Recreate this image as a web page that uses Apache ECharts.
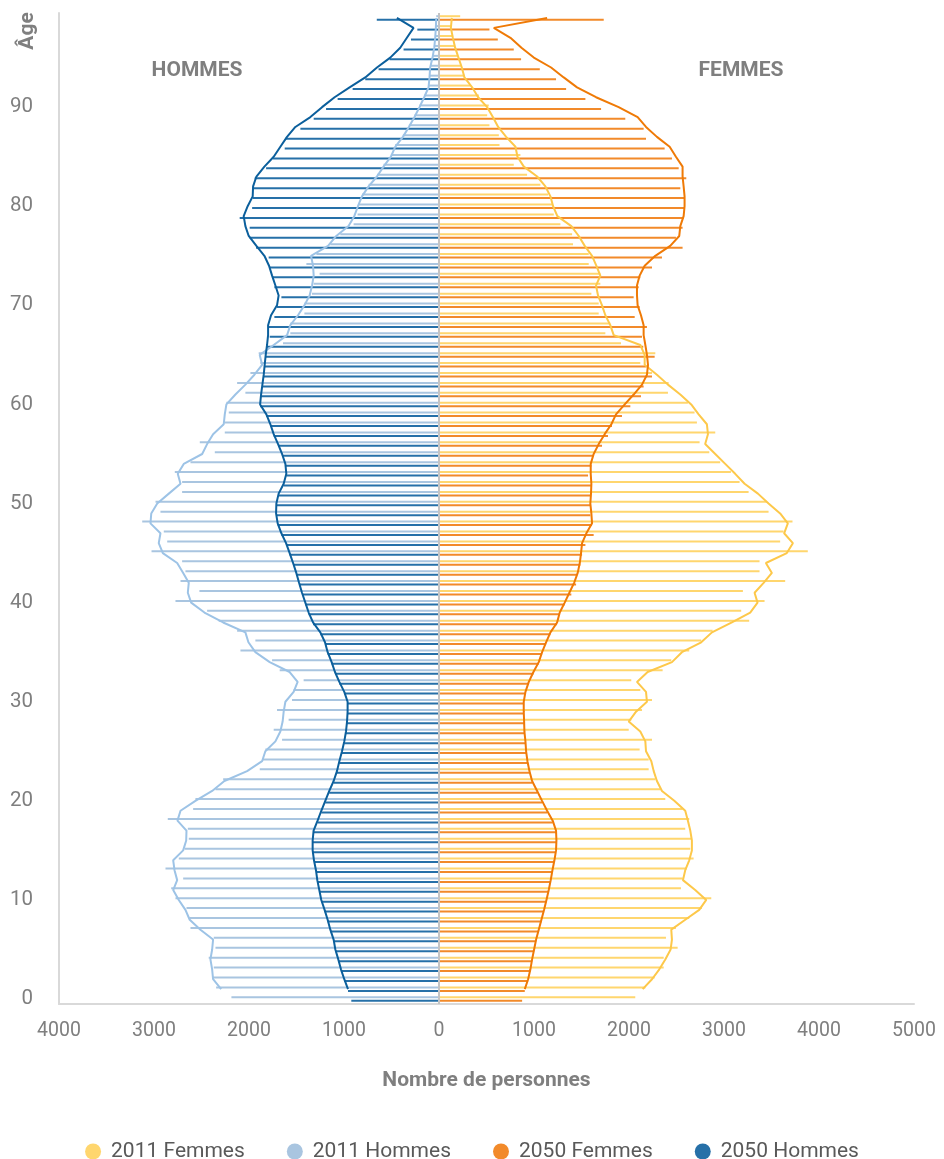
<!DOCTYPE html>
<html>
<head>
<meta charset="utf-8">
<script src="https://cdn.jsdelivr.net/npm/echarts@6/dist/echarts.min.js"></script>
<style>
html,body{margin:0;padding:0;background:#fff;}
#chart{width:944px;height:1159px;}
</style>
</head>
<body>
<div id="chart"></div>
<script>
// Ages 0..99 (categories)
const ages = Array.from({length: 100}, (_, i) => String(i));
const yLabels = ['0','10','20','30','40','50','60','70','80','90'];
const xTicks = [-4000,-3000,-2000,-1000,0,1000,2000,3000,4000,5000];

// Outline (line) values, ages 0..99
const line2011F = ['-',2144,2242,2319,2382,2438,2452,2445,2592,2739,2813,2697,2568,2592,2634,2662,2662,2645,2620,2592,2477,2347,2294,2260,2235,2179,2172,2119,1997,2074,2189,2179,2084,2196,2452,2557,2760,2873,3083,3276,3353,3322,3417,3504,3441,3661,3725,3633,3672,3591,3469,3357,3217,3118,3013,2908,2802,2831,2820,2733,2655,2540,2410,2294,2165,2165,2119,1839,1803,1751,1716,1674,1653,1698,1656,1611,1534,1471,1393,1246,1201,1173,1120,1033,893,826,805,707,623,567,507,412,349,268,240,205,170,146,125,135];
const line2011H = ['-',2293,2378,2388,2406,2388,2378,2511,2624,2669,2739,2798,2756,2784,2798,2693,2661,2658,2753,2721,2564,2388,2259,2020,1862,1828,1722,1670,1646,1635,1617,1530,1488,1572,1782,1933,2006,2038,2272,2469,2609,2644,2634,2693,2756,2907,2950,2932,3037,3029,2966,2844,2721,2750,2687,2493,2441,2378,2266,2255,2238,2143,2038,1943,1862,1887,1740,1599,1565,1484,1417,1362,1336,1319,1326,1347,1168,1081,952,892,853,811,741,653,584,506,461,380,317,258,205,156,110,100,93,68,50,40,33,29];
const line2050F = ['-',903,938,962,980,1001,1022,1050,1078,1106,1131,1155,1176,1194,1215,1232,1236,1232,1197,1138,1085,1033,980,952,931,917,910,899,896,892,892,910,945,994,1050,1085,1127,1173,1243,1271,1323,1372,1422,1460,1482,1495,1506,1551,1611,1604,1593,1600,1604,1597,1597,1628,1681,1744,1814,1863,1955,2049,2137,2189,2200,2189,2172,2154,2154,2126,2091,2084,2084,2112,2165,2277,2434,2529,2540,2575,2585,2585,2575,2564,2564,2494,2428,2294,2179,2091,1891,1653,1453,1313,1180,998,868,752,577,1138];
const line2050H = ['-',958,997,1032,1060,1091,1109,1144,1172,1204,1239,1260,1281,1295,1316,1330,1330,1320,1278,1239,1197,1155,1109,1074,1049,1021,997,979,968,962,962,997,1049,1095,1130,1172,1200,1249,1326,1372,1407,1442,1473,1502,1536,1572,1610,1659,1698,1715,1712,1688,1635,1607,1617,1652,1694,1740,1775,1817,1883,1873,1859,1845,1835,1824,1810,1799,1799,1768,1705,1688,1722,1757,1789,1838,1922,2003,2038,2056,2014,1961,1957,1922,1838,1740,1670,1600,1512,1354,1231,1099,941,776,653,513,408,338,268,443];

// Bar values, ages 0..99
const bar2011F = [2066,2172,2270,2365,2365,2512,2389,2494,2634,2768,2866,2547,2565,2610,2680,2645,2662,2592,2634,2565,2382,2329,2277,2207,2207,2112,2242,1997,2024,2137,2242,2119,2024,2354,2445,2634,2760,2880,3265,3181,3427,3199,3644,3374,3374,3882,3591,3627,3721,3469,3451,3259,3164,3073,2960,2845,2743,2908,2715,2690,2620,2410,2417,2242,2119,2277,1916,1751,1803,1681,1681,1604,1698,1698,1576,1576,1411,1401,1278,1208,1190,1148,1067,927,787,857,637,630,531,507,524,420,330,270,230,190,160,140,125,223];
const bar2011H = [2185,2346,2378,2371,2424,2353,2371,2616,2627,2658,2774,2819,2693,2879,2739,2676,2634,2644,2855,2588,2564,2353,2272,1887,1862,1828,1652,1740,1583,1705,1547,1530,1425,1677,1757,2090,1933,2125,2319,2441,2774,2522,2721,2669,2704,3026,2861,2897,3124,2932,2984,2704,2704,2781,2616,2360,2518,2255,2259,2213,2238,2038,2125,1985,1880,1898,1642,1565,1565,1417,1417,1337,1319,1257,1396,1291,1144,1039,899,857,846,811,741,653,584,506,461,380,317,258,205,156,110,100,93,68,50,40,33,29];
const bar2050F = [875,903,938,962,980,1001,1022,1050,1078,1106,1131,1155,1176,1194,1215,1232,1236,1232,1197,1138,1085,1033,980,952,931,917,910,899,896,892,892,910,945,994,1050,1085,1127,1173,1243,1271,1323,1393,1443,1453,1488,1506,1541,1628,1611,1593,1593,1593,1604,1569,1604,1628,1716,1779,1821,1926,2014,2126,2154,2242,2180,2270,2150,2137,2189,2060,2112,2049,2102,2119,2242,2347,2564,2494,2564,2575,2585,2585,2540,2603,2523,2452,2375,2179,2154,1961,1706,1541,1338,1232,1061,864,787,619,531,1734];
const bar2050H = [923,958,997,1032,1060,1091,1109,1144,1172,1204,1239,1260,1281,1295,1316,1330,1330,1320,1278,1239,1197,1155,1109,1074,1049,1021,997,979,968,962,962,997,1049,1095,1130,1172,1200,1249,1326,1372,1407,1442,1473,1502,1536,1572,1610,1659,1698,1715,1712,1688,1635,1607,1617,1652,1694,1740,1775,1817,1883,1873,1859,1845,1835,1824,1810,1782,1799,1733,1705,1659,1733,1757,1782,1793,1926,1993,1993,2098,1967,1961,1961,1940,1820,1747,1624,1617,1459,1319,1189,1067,909,776,636,520,373,295,228,655];

const neg = a => a.map(v => v === '-' ? '-' : -v);

const C = {
  f11: '#fdc84a', f11bar: '#ffd66e',
  h11: '#9dc3e6', h11bar: '#a9c5e0',
  f50: '#ef7a06', f50bar: '#f28a2a',
  h50: '#0b5f9c', h50bar: '#2670a8'
};
const grey = '#7f7f7f';
const font = 'Roboto, "Noto Sans", sans-serif';

const chart = echarts.init(document.getElementById('chart'), null, {renderer: 'canvas'});

function barS(name, data, stack, color) {
  return {
    name, type: 'bar', data, stack, barWidth: 2, barGap: '75%',
    itemStyle: {color}, silent: true, z: 2
  };
}
function lineS(name, data, color) {
  return {
    name, type: 'line', data, symbol: 'none', silent: true, z: 3,
    lineStyle: {color, width: 2}, itemStyle: {color}
  };
}

const series = [
  barS('2011 Femmes', bar2011F, 's2011', C.f11bar),
  barS('2011 Hommes', neg(bar2011H), 's2011', C.h11bar),
  barS('2050 Femmes', bar2050F, 's2050', C.f50bar),
  barS('2050 Hommes', neg(bar2050H), 's2050', C.h50bar),
  lineS('2011 Femmes', line2011F, C.f11),
  lineS('2011 Hommes', neg(line2011H), C.h11),
  lineS('2050 Femmes', line2050F, C.f50),
  lineS('2050 Hommes', neg(line2050H), C.h50)
];
series[0].markLine = {
  silent: true, symbol: 'none', label: {show: false},
  lineStyle: {color: '#c4c4c4', width: 2, type: 'solid'},
  data: [{xAxis: 0}]
};

chart.setOption({
  animation: false,
  textStyle: {fontFamily: font},
  grid: {left: 59, right: 30, top: 13, bottom: 155, containLabel: false},
  xAxis: {
    type: 'value', min: xTicks[0], max: xTicks[xTicks.length - 1], interval: 1000,
    axisLine: {show: true, onZero: false, lineStyle: {color: '#d9d9d9', width: 2}},
    axisTick: {show: false},
    splitLine: {show: false},
    axisLabel: {color: grey, fontSize: 19.5, margin: 17, fontFamily: font,
      formatter: v => String(Math.abs(v))},
    name: 'Nombre de personnes', nameLocation: 'middle', nameGap: 66,
    nameTextStyle: {color: grey, fontSize: 21, fontWeight: 'bold', fontFamily: font}
  },
  yAxis: {
    type: 'category', data: ages, boundaryGap: true,
    axisLine: {show: true, onZero: false, lineStyle: {color: '#d9d9d9', width: 2}},
    axisTick: {show: false},
    splitLine: {show: false},
    axisLabel: {color: grey, fontSize: 20.5, margin: 26, fontFamily: font,
      interval: (i, v) => yLabels.indexOf(v) >= 0}
  },
  legend: {
    top: 1136, left: 'center', icon: 'circle', itemWidth: 16, itemHeight: 16, itemGap: 42,
    data: ['2011 Femmes', '2011 Hommes', '2050 Femmes', '2050 Hommes'],
    textStyle: {color: '#595959', fontSize: 21, fontFamily: font, padding: [0, 0, 0, 5]},
    selectedMode: false
  },
  color: [C.f11, C.h11, C.f50, C.h50],
  graphic: [
    {type: 'text', position: [28, 31], rotation: Math.PI / 2,
      style: {text: 'Âge', textAlign: 'center', textVerticalAlign: 'middle',
        font: 'bold 21px ' + font, fill: grey}},
    {type: 'text', position: [197, 71],
      style: {text: 'HOMMES', textAlign: 'center', textVerticalAlign: 'middle',
        font: 'bold 21px ' + font, fill: grey}},
    {type: 'text', position: [741, 71],
      style: {text: 'FEMMES', textAlign: 'center', textVerticalAlign: 'middle',
        font: 'bold 21px ' + font, fill: grey}}
  ],
  series
});
</script>
</body>
</html>
